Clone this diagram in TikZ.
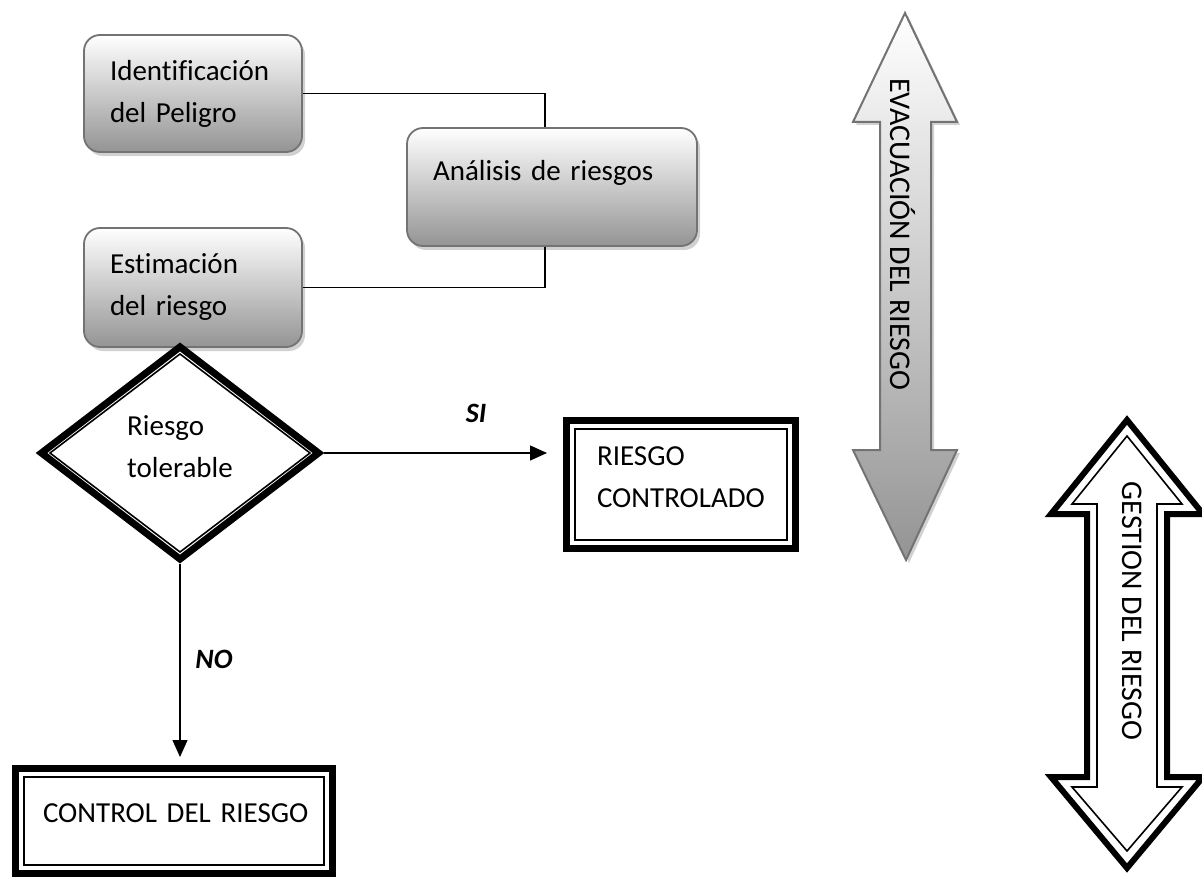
\documentclass[tikz,border=0pt]{standalone}
\usepackage{fontspec}
\setmainfont{Carlito}[Ligatures=CommonOff]
\usetikzlibrary{arrows.meta,shapes.geometric,shadows,calc}
\begin{document}
\begin{tikzpicture}[x=1pt,y=-1pt,
  txt/.style={font=\fontsize{29}{42}\selectfont, text=black},
  gbox/.style={txt, rectangle, rounded corners=16pt, draw=black!55, line width=1.8pt,
    top color=white, bottom color=black!42,
    drop shadow={shadow xshift=3pt, shadow yshift=-4pt, fill=black!30, opacity=0.6},
    align=left, inner xsep=26pt, inner ysep=0pt},
  thickframe/.style={txt, rectangle, draw=black, line width=7pt, align=left, inner ysep=0pt},
  thinline/.style={draw=black, line width=1.6pt},
  conn/.style={draw=black, line width=1.3pt},
  arr/.style={conn, -{Triangle[length=17pt,width=15pt]}},
  lab/.style={font=\fontsize{28}{30}\selectfont\bfseries\itshape, inner sep=0pt},
  vtext/.style={font=\fontsize{30}{36}\selectfont, text=black, rotate=-90, anchor=base, inner sep=0pt},
]
\useasboundingbox (0,0) rectangle (1202,877);

% rounded gradient boxes
\node[gbox, minimum width=218pt, minimum height=117pt, text width=166pt] (id) at (193,93.5) {Identificación\\del Peligro};
\node[gbox, minimum width=290pt, minimum height=118pt, text width=238pt, text depth=34pt] (an) at (552,187) {Análisis de riesgos};
\node[gbox, minimum width=218pt, minimum height=119pt, text width=166pt] (es) at (193,287.5) {Estimación\\del riesgo};

% connectors between boxes
\draw[conn] (id.east) -| ([xshift=-7pt]an.north);
\draw[conn] ([xshift=-7pt]an.south) |- (es.east);

% decision diamond
\node[txt, diamond, draw=black, line width=7pt, minimum width=280pt, minimum height=215pt, align=left, inner sep=0pt, text depth=12pt] (dia) at (180,453) {Riesgo\\tolerable};
\draw[thinline] (180,354) -- (310,453) -- (180,552) -- (50,453) -- cycle;

% result boxes
\node[thickframe, minimum width=229pt, minimum height=128pt, inner xsep=30.5pt, text width=168pt, text depth=56pt] (rc) at (681,484.5) {\mbox{RIESGO}\\\mbox{CONTROLADO}};
\draw[thinline] (575,429) rectangle (787,540);

\node[thickframe, minimum width=317pt, minimum height=105pt, inner xsep=27.5pt, text width=262pt, text depth=16pt] (cr) at (174,821) {\mbox{CONTROL DEL RIESGO}};
\draw[thinline] (24,777) rectangle (324,865);

% decision arrows
\draw[arr, shorten >=16pt] (dia.east) -- (dia.east -| rc.west);
\draw[arr, shorten >=8pt] (dia.south) -- (dia.south |- cr.north);
\node[lab] (si) at (476,413) {SI};
\node[lab] (no) at (214,659) {NO};

% EVACUACION double arrow
\draw[draw=black!55, line width=2pt, top color=white, bottom color=black!42,
  drop shadow={shadow xshift=3pt, shadow yshift=-3pt, fill=black!30, opacity=0.6}]
  (905,13) -- (957,122) -- (931,122) -- (931,450) -- (957,450) -- (906,560)
  -- (853,450) -- (880,450) -- (880,122) -- (853,122) -- cycle;
\node[vtext] (ev) at (890,234) {EVACUACIÓN DEL RIESGO};

% GESTION double arrow
\draw[draw=black, line width=6pt, fill=white]
  (1127,420) -- (1203,514) -- (1167,514) -- (1167,777) -- (1203,777) -- (1127,868)
  -- (1051,777) -- (1087,777) -- (1087,514) -- (1051,514) -- cycle;
\draw[thinline]
  (1127,436) -- (1182,504) -- (1157,504) -- (1157,787) -- (1182,787) -- (1127,851)
  -- (1072,787) -- (1097,787) -- (1097,504) -- (1072,504) -- cycle;
\node[vtext] (ge) at (1122,611) {GESTION DEL RIESGO};
\end{tikzpicture}
\end{document}
